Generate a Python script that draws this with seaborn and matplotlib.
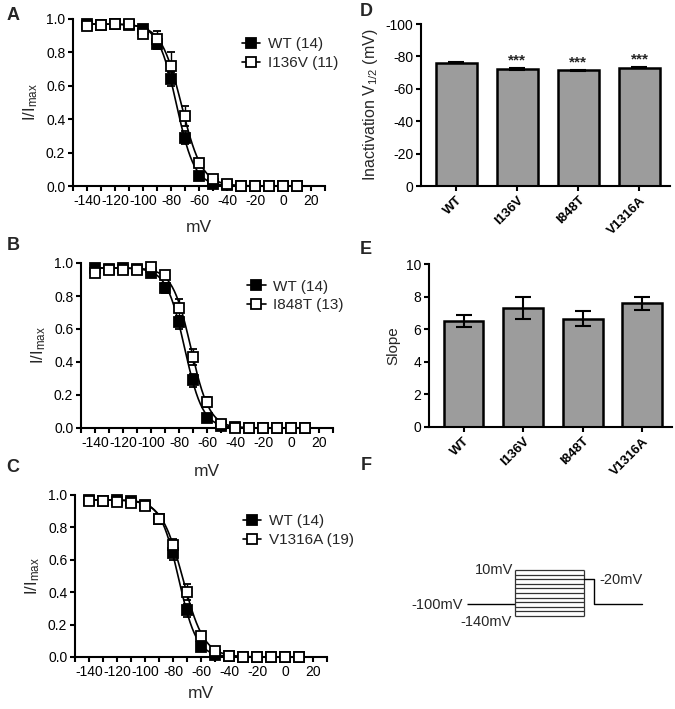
import numpy as np
import pandas as pd
import seaborn as sns
import matplotlib.pyplot as plt

voltage = [-140, -130, -120, -110, -100, -90, -80, -70, -60, -50, -40, -30, -20, -10, 0, 10]
wt = [0.97, 0.965, 0.97, 0.965, 0.94, 0.85, 0.64, 0.29, 0.06, 0.01, 0.005, 0, 0, 0, 0, 0]
wt_err = [0.01, 0.01, 0.01, 0.01, 0.01, 0.03, 0.04, 0.04, 0.01, 0.005, 0, 0, 0, 0, 0, 0]
i136v = [0.96, 0.965, 0.97, 0.97, 0.91, 0.88, 0.72, 0.42, 0.14, 0.04, 0.01, 0, 0, 0, 0, 0]
i136v_err = [0.01, 0.01, 0.01, 0.01, 0.02, 0.05, 0.08, 0.06, 0.02, 0.01, 0, 0, 0, 0, 0, 0]
i848t = [0.94, 0.955, 0.955, 0.96, 0.975, 0.93, 0.73, 0.43, 0.16, 0.025, 0.0, 0, 0, 0, 0, 0]
i848t_err = [0.01, 0.01, 0.01, 0.01, 0.01, 0.02, 0.05, 0.05, 0.03, 0.01, 0, 0, 0, 0, 0, 0]
v1316a = [0.96, 0.96, 0.955, 0.95, 0.935, 0.85, 0.69, 0.40, 0.13, 0.035, 0.005, 0, 0, 0, 0, 0]
v1316a_err = [0.01, 0.01, 0.01, 0.01, 0.01, 0.02, 0.04, 0.05, 0.02, 0.01, 0, 0, 0, 0, 0, 0]

# Boltzmann fit parameters (panels D and E)
genotypes = ["WT", "I136V", "I848T", "V1316A"]
n_cells = [14, 11, 13, 19]
v_half = [-76.0, -72.5, -71.5, -73.0]
v_half_err = [0.3, 0.6, 0.4, 0.4]
slope = [6.5, 7.3, 6.65, 7.6]
slope_err = [0.35, 0.65, 0.45, 0.4]
stars = ["", "***", "***", "***"]
fit_top = 0.97

# protocol (panel F)
holding = -100
prepulse_levels = [10, -5, -20, -35, -50, -65, -80, -95, -110, -125, -140]
test_pulse = -20
durations = [48, 69, 10, 48]

sns.set_theme(style="ticks")
plt.rcParams["font.family"] = ["Liberation Sans", "DejaVu Sans"]
plt.rcParams["mathtext.fontset"] = "custom"
plt.rcParams["mathtext.rm"] = "Liberation Sans"
plt.rcParams["mathtext.it"] = "Liberation Sans:italic"
plt.rcParams["axes.unicode_minus"] = False
plt.rcParams["axes.linewidth"] = 1.5
plt.rcParams["xtick.major.width"] = 1.5
plt.rcParams["ytick.major.width"] = 1.5
plt.rcParams["xtick.major.size"] = 3.5
plt.rcParams["ytick.major.size"] = 3.5
plt.rcParams["xtick.major.pad"] = 2.5
plt.rcParams["ytick.major.pad"] = 2
plt.rcParams["xtick.labelsize"] = 10
plt.rcParams["ytick.labelsize"] = 10
plt.rcParams["xtick.color"] = "black"
plt.rcParams["ytick.color"] = "black"
plt.rcParams["axes.edgecolor"] = "black"

W, H = 675, 709
fig = plt.figure(figsize=(W / 100, H / 100), dpi=100)


def box(left, top, right, bottom):
    return [left / W, 1 - bottom / H, (right - left) / W, (bottom - top) / H]


def boltz(v, vh, k):
    return fit_top / (1 + np.exp((v - vh) / k))


vfit = np.linspace(-140, 10, 300)

curve_panels = [
    ((73, 19, 325, 186), 42, "I136V", i136v, i136v_err, 1, (0.67, 0.89)),
    ((81, 263, 333, 428), 44, "I848T", i848t, i848t_err, 2, (0.66, 0.90)),
    ((75, 495, 327, 657), 36, "V1316A", v1316a, v1316a_err, 3, (0.667, 0.88)),
]

xticks = list(range(-150, 31, 10))
xticklabels = [str(t) if t % 20 == 0 else "" for t in xticks]

for px, xlab_dist, name, vals, errs, gi, lpos in curve_panels:
    ax = fig.add_axes(box(*px))
    for g, y, e, face in [(0, wt, wt_err, "black"), (gi, vals, errs, "white")]:
        sns.lineplot(x=vfit, y=boltz(vfit, v_half[g], slope[g]), color="black", lw=1.2, ax=ax)
        ax.errorbar(voltage, y, yerr=e, fmt="s", ms=6.5, mfc=face, mec="black", mew=1.3,
                    ecolor="black", elinewidth=1.0, capsize=3, clip_on=False, zorder=3)
    h1, = ax.plot([], [], "-s", color="black", ms=6.5, mfc="black", mew=1.3, lw=1.2)
    h2, = ax.plot([], [], "-s", color="black", ms=6.5, mfc="white", mew=1.3, lw=1.2)
    ax.legend([h1, h2], [f"WT ({n_cells[0]})", f"{name} ({n_cells[gi]})"], loc="upper left",
              bbox_to_anchor=lpos, frameon=False, fontsize=11, handlelength=1.2,
              handletextpad=0.5, borderpad=0, borderaxespad=0, labelspacing=0.3)
    ax.set_xlim(-150, 30)
    ax.set_ylim(0, 1.0)
    ax.set_xticks(xticks)
    ax.set_xticklabels(xticklabels)
    ax.set_yticks(np.arange(0, 1.01, 0.2))
    ax.set_yticklabels([f"{t:.1f}" for t in np.arange(0, 1.01, 0.2)])
    ax.set_xlabel("mV", fontsize=12.5)
    ax.xaxis.set_label_coords(0.5, -xlab_dist / (px[3] - px[1]))
    ax.xaxis.label.set_va("center")
    ax.set_ylabel("I/I$_{\\mathrm{max}}$", fontsize=12, labelpad=4)
    sns.despine(ax=ax)

bar_df = pd.DataFrame({"genotype": genotypes, "v_half": v_half, "slope": slope})

for rect, col, err, ylim, ticks, ylabel in [
    (box(421, 24, 670, 186), "v_half", v_half_err, (0, -100), range(0, -101, -20),
     "Inactivation V$_{1/2}$ (mV)"),
    (box(429, 264, 672, 427), "slope", slope_err, (0, 10), range(0, 11, 2), "Slope"),
]:
    ax = fig.add_axes(rect)
    sns.barplot(data=bar_df, x="genotype", y=col, color="#9c9c9c", edgecolor="black",
                linewidth=1.8, width=0.67, saturation=1, ax=ax)
    ax.errorbar(range(len(genotypes)), bar_df[col], yerr=err, fmt="none", ecolor="black",
                elinewidth=1.5, capsize=6, capthick=1.5, zorder=4)
    ax.set_xlim(-0.58, 3.5)
    ax.set_ylim(*ylim)
    ax.set_yticks(list(ticks))
    ax.set_xlabel("")
    ax.set_ylabel(ylabel, fontsize=11.5 if col == "v_half" else 11)
    plt.setp(ax.get_xticklabels(), rotation=45, ha="right", rotation_mode="anchor",
             fontweight="bold", fontsize=9.5)
    sns.despine(ax=ax)
    if col == "v_half":
        for i, s in enumerate(stars):
            ax.text(i, v_half[i] - 5, s, ha="center", va="center", fontsize=11, fontweight="bold")

# panel F: voltage protocol
ax = fig.add_axes(box(467, 570, 642, 616))
ax.set_xlim(0, sum(durations))
ax.set_ylim(min(prepulse_levels), max(prepulse_levels))
ax.axis("off")
t0 = durations[0]
t1 = t0 + durations[1]
t2 = t1 + durations[2]
t3 = t2 + durations[3]
ax.hlines(holding, 0, t0, color="black", lw=1.0, clip_on=False)
ax.hlines(prepulse_levels, t0, t1, color="#333333", lw=0.9, clip_on=False)
ax.vlines([t0, t1], min(prepulse_levels), max(prepulse_levels), color="#333333", lw=0.9, clip_on=False)
ax.plot([t1, t2, t2, t3], [test_pulse, test_pulse, holding, holding], color="black", lw=1.0, clip_on=False)
ax.text(t0 - 1.5, max(prepulse_levels), f"{max(prepulse_levels)}mV", ha="right", va="center", fontsize=10.5)
ax.text(-4, holding - 5, f"{holding}mV", ha="right", va="center", fontsize=10.5)
ax.text(t0 - 3, min(prepulse_levels) - 18, f"{min(prepulse_levels)}mV", ha="right", va="center", fontsize=10.5)
ax.text(t2 + 5, test_pulse - 2, f"{test_pulse}mV", ha="left", va="center", fontsize=10.5)

for letter, x, y in [("A", 13, 15), ("B", 13, 245), ("C", 13, 468),
                     ("D", 366, 12), ("E", 366, 250), ("F", 366, 466)]:
    fig.text(x / W, 1 - y / H, letter, fontsize=13, fontweight="bold", ha="center", va="center")

fig.savefig("out.png", dpi=100)
